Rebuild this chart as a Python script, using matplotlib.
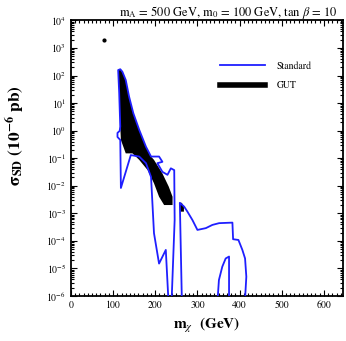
import matplotlib
matplotlib.use("Agg")
import matplotlib.pyplot as plt
from matplotlib.lines import Line2D
from matplotlib.ticker import MultipleLocator, LogLocator, FixedLocator, NullFormatter

plt.rcParams['font.family'] = ['STIXGeneral', 'DejaVu Serif']
plt.rcParams['mathtext.fontset'] = 'stix'

# GUT scan region (filled black)
gut_mx = [112, 117, 122, 130, 138, 148, 162, 178, 190, 197, 217, 232, 241, 241,
          221, 209, 197, 182, 162, 146, 130, 118.5, 117, 114.5]
gut_sig = [160, 170, 139, 69, 17, 4.3, 1.07, 0.26, 0.115, 0.087, 0.028, 0.0093, 0.004, 0.002,
           0.002, 0.004, 0.0123, 0.037, 0.087, 0.15, 0.15, 0.46, 1.4, 23]
# small GUT patch
gut2_mx = [258, 263, 268, 268, 259]
gut2_sig = [2.45e-3, 2.4e-3, 1.78e-3, 1.15e-3, 1.15e-3]

# standard scan boundary (three pieces)
std1_mx = [239, 246, 245, 237, 229, 217, 205, 217, 209, 190, 178, 162, 148, 138, 130, 122,
           117, 112, 114.5, 117, 115.6, 110.4, 110.4, 117, 118.5, 142, 162, 178, 190, 197,
           209, 225, 231]
std1_sig = [8e-7, 5.8e-4, 0.037, 0.043, 0.025, 0.032, 0.066, 0.074, 0.115, 0.115, 0.26, 1.07,
            4.3, 17, 69, 138, 170, 158, 23, 1.4, 0.98, 0.83, 0.59, 0.46, 0.0083, 0.13, 0.115,
            0.066, 0.021, 1.9e-4, 1.5e-5, 4.7e-5, 8e-7]
std2_mx = [263, 258.3, 268.5, 276.3, 288.2, 300, 319.9, 335.5, 351.4, 383, 384.6, 397.2,
           398.8, 406.6, 413, 416, 413]
std2_sig = [8e-7, 2.4e-3, 1.75e-3, 1.15e-3, 5.7e-4, 2.5e-4, 2.9e-4, 3.8e-4, 4.4e-4, 4.6e-4,
            1.15e-4, 1.08e-4, 9.4e-5, 4.7e-5, 2.3e-5, 5e-6, 8e-7]
std3_mx = [348, 351, 359, 367, 375, 375]
std3_sig = [8e-7, 3.8e-6, 1.16e-5, 2.3e-5, 2.7e-5, 8e-7]

# isolated point
dot_mx = [79]
dot_sig = [1900]

fig = plt.figure(figsize=(3.46, 3.41), dpi=100)
ax = fig.add_axes([0.205, 0.132, 0.786, 0.808])

ax.fill(gut_mx, gut_sig, color='black', lw=0, zorder=2)
ax.fill(gut2_mx, gut2_sig, color='black', lw=0, zorder=2)
for xs, ys in [(std1_mx, std1_sig), (std2_mx, std2_sig), (std3_mx, std3_sig)]:
    ax.plot(xs, ys, color='#1f1fff', lw=1.3, zorder=3)
ax.plot(dot_mx, dot_sig, 'o', color='black', ms=2, zorder=3)

ax.set_yscale('log')
ax.set_xlim(0, 645)
ax.set_ylim(1e-6, 1e4)

ax.xaxis.set_major_locator(MultipleLocator(100))
ax.xaxis.set_minor_locator(MultipleLocator(10))
ax.yaxis.set_major_locator(FixedLocator([10.0**k for k in range(-6, 5)]))
ax.yaxis.set_minor_locator(LogLocator(base=10, subs=range(2, 10), numticks=30))
ax.yaxis.set_minor_formatter(NullFormatter())
ax.set_yticklabels([r'$10^{%d}$' % k for k in range(-6, 5)])

ax.tick_params(which='both', direction='in', top=True, right=True, labelsize=7, width=0.8)
ax.tick_params(which='major', length=4)
ax.tick_params(which='minor', length=2)
for s in ax.spines.values():
    s.set_linewidth(1.3)

ax.set_xlabel(r'm$_{\chi}$  (GeV)', fontsize=11, fontweight='bold', labelpad=4)
ax.set_ylabel(r'σ$_{\mathbf{SD}}$ (10$^{\mathbf{-6}}$ pb)', fontsize=12.5, fontweight='bold')
ax.yaxis.set_label_coords(-0.16, 0.584)
fig.text(0.975, 0.962, r'm$_\mathrm{A}$ = 500 GeV, m$_0$ = 100 GeV, tan $\beta$ = 10',
         ha='right', va='center', fontsize=9)

handles = [Line2D([], [], color='#1f1fff', lw=1.3), Line2D([], [], color='black', lw=4)]
ax.legend(handles, ['Standard', 'GUT'], loc='upper left', bbox_to_anchor=(0.548, 0.852),
          frameon=False, fontsize=7, handlelength=4.6, handletextpad=1.2,
          labelspacing=1.0, borderpad=0, borderaxespad=0)

fig.savefig('out.png', dpi=100)
